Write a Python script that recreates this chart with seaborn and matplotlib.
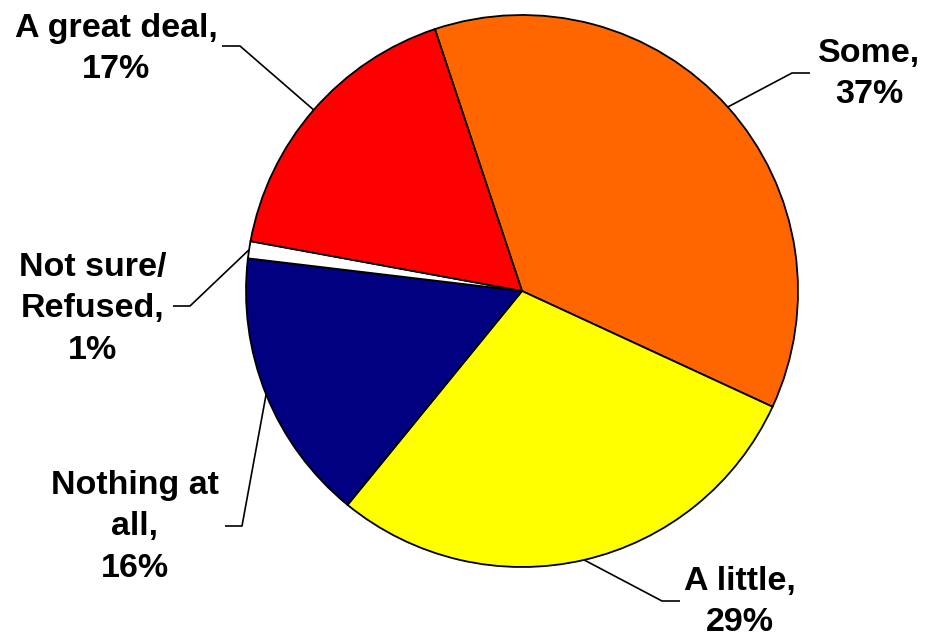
import matplotlib
matplotlib.use("Agg")
import matplotlib.pyplot as plt
import numpy as np
import seaborn as sns

# ---- data ----
categories = ["Some", "A little", "Nothing at all", "Not sure/Refused", "A great deal"]
values = [37, 29, 16, 1, 17]
label_texts = ["Some,\n37%", "A little,\n29%", "Nothing at\nall,\n16%",
               "Not sure/\nRefused,\n1%", "A great deal,\n17%"]
colors = ["#FF6600", "#FFFF00", "#000080", "#FFFFFF", "#FF0000"]

sns.set_theme(style="white")
plt.rcParams['font.family'] = ['Liberation Sans', 'DejaVu Sans']

W, H = 926, 641
fig = plt.figure(figsize=(W / 100, H / 100), dpi=100)
ax = fig.add_axes([0, 0, 1, 1])

cx, cy, R = 522, 291, 276  # pixel coords (y down)

def Y(y):
    return H - y

wedges, _ = ax.pie(values, colors=colors, startangle=108.4, counterclock=False,
                   center=(cx, Y(cy)), radius=R,
                   wedgeprops=dict(edgecolor="black", linewidth=1.3))
ax.set_xlim(0, W)
ax.set_ylim(0, H)
ax.set_aspect("auto")
ax.axis("off")

# layout: text centre, elbow point, end of horizontal segment (pixels)
layout = [
    dict(text=(869, 74), elbow=(792, 73), end=(810, 73)),
    dict(text=(740, 602), elbow=(662, 601), end=(680, 601)),
    dict(text=(135, 527), elbow=(242, 526), end=(225, 526)),
    dict(text=(93, 309), elbow=(190, 306), end=(173, 306)),
    dict(text=(116, 49), elbow=(240, 46), end=(222, 46)),
]

for w, txt, lay in zip(wedges, label_texts, layout):
    mid = np.deg2rad((w.theta1 + w.theta2) / 2)
    ex = cx + R * np.cos(mid)
    ey = Y(cy) + R * np.sin(mid)
    xs = [ex, lay["elbow"][0], lay["end"][0]]
    ys = [ey, Y(lay["elbow"][1]), Y(lay["end"][1])]
    ax.plot(xs, ys, color="black", linewidth=1.2, solid_capstyle="butt")
    ax.text(lay["text"][0], Y(lay["text"][1]), txt, ha="center", va="center",
            multialignment="center", fontsize=24.5, fontweight="bold",
            color="black", linespacing=1.42)

fig.savefig("out.png", dpi=100)
